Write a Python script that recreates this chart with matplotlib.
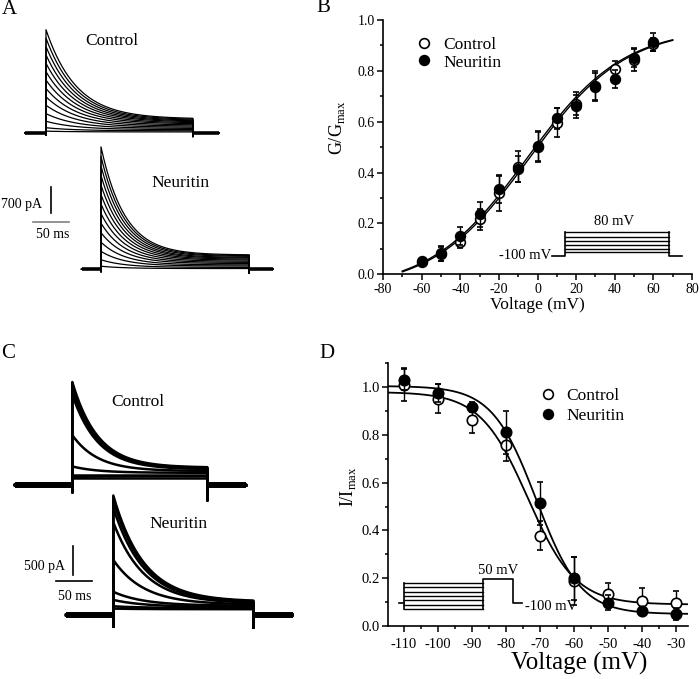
import numpy as np
import matplotlib
matplotlib.use('Agg')
import matplotlib.pyplot as plt
from matplotlib.lines import Line2D
from matplotlib.ticker import MultipleLocator

plt.rcParams['font.family'] = ['Liberation Serif', 'DejaVu Serif']
plt.rcParams['mathtext.fontset'] = 'custom'
plt.rcParams['mathtext.rm'] = 'Liberation Serif'
plt.rcParams['axes.unicode_minus'] = False

W, H = 700, 679

# ---- data ----
# A: activation current families (pA), peak and steady-state of each sweep
A_ctrl_peak = [2700, 2480, 2260, 2040, 1820, 1600, 1380, 1160, 940, 720, 500, 300, 130, 40]
A_ctrl_ss = [360, 340, 320, 300, 280, 255, 230, 200, 170, 140, 110, 80, 50, 20]
A_neur_peak = [3210, 2960, 2710, 2460, 2210, 1960, 1710, 1460, 1210, 960, 710, 470, 250, 80]
A_neur_ss = [375, 355, 335, 310, 290, 265, 240, 210, 180, 150, 115, 85, 50, 20]
A_ctrl_tau = 42
A_neur_tau = 33

# C: inactivation current families (pA)
C_ctrl_peak = [1775, 1720, 1640, 1560, 860, 320, 180, 140, 120]
C_ctrl_ss = [300, 290, 280, 270, 240, 210, 180, 150, 120]
C_neur_peak = [2060, 1980, 1850, 1600, 950, 400, 260, 150, 110]
C_neur_ss = [230, 220, 210, 200, 180, 160, 140, 120, 100]
C_ctrl_tau = 35
C_neur_tau = 42

# B: G/Gmax vs voltage
B_volt = [-60, -50, -40, -30, -20, -10, 0, 10, 20, 30, 40, 50, 60]
B_ctrl = [0.05, 0.08, 0.126, 0.216, 0.318, 0.423, 0.50, 0.596, 0.67, 0.738, 0.806, 0.843, 0.905]
B_ctrl_err = [0.01, 0.028, 0.024, 0.042, 0.068, 0.062, 0.06, 0.057, 0.045, 0.053, 0.033, 0.043, 0.025]
B_neur = [0.052, 0.082, 0.15, 0.236, 0.335, 0.414, 0.505, 0.613, 0.66, 0.74, 0.768, 0.852, 0.915]
B_neur_err = [0.01, 0.03, 0.035, 0.05, 0.055, 0.05, 0.06, 0.04, 0.044, 0.06, 0.037, 0.037, 0.035]
# Boltzmann fit parameters (A1, A2, V0, k)
B_ctrl_fit = (-0.06, 0.97, -4.4, 25.0)
B_neur_fit = (-0.06, 0.97, -5.6, 25.0)

# D: I/Imax vs prepulse voltage
D_volt = [-110, -100, -90, -80, -70, -60, -50, -40, -30]
D_ctrl = [1.011, 0.952, 0.864, 0.759, 0.378, 0.19, 0.133, 0.106, 0.095]
D_ctrl_err = [0.07, 0.06, 0.055, 0.07, 0.06, 0.1, 0.045, 0.055, 0.05]
D_neur = [1.032, 0.976, 0.917, 0.811, 0.515, 0.2, 0.098, 0.064, 0.05]
D_neur_err = [0.045, 0.038, 0.02, 0.09, 0.09, 0.09, 0.03, 0.015, 0.025]
D_ctrl_fit = (0.98, 0.09, -73.5, 7.0)
D_neur_fit = (1.005, 0.05, -71.0, 6.5)


def boltz(v, p):
    a1, a2, v0, k = p
    return a2 + (a1 - a2) / (1 + np.exp((v - v0) / k))


fig = plt.figure(figsize=(7, 6.79), dpi=100)


def px_axes(left, top, right, bottom):
    return fig.add_axes([left / W, 1 - bottom / H, (right - left) / W, (bottom - top) / H])


def trace_axes(left, top, right, bottom, ox, oy, xs, ys):
    # (ox, oy) is the figure pixel where t=0, I=0 sits
    ax = px_axes(left, top, right, bottom)
    ax.set_xlim((left - ox) * xs, (right - ox) * xs)
    ax.set_ylim((oy - bottom) * ys, (oy - top) * ys)
    ax.axis('off')
    return ax


def draw_family(ax, peaks, steady, tau, dur, pre, post, lw, base_lw, dip_on, dip_off):
    ax.plot([-pre, 0], [0, 0], color='black', lw=base_lw, solid_capstyle='butt')
    ax.plot([dur, dur + post], [0, 0], color='black', lw=base_lw, solid_capstyle='butt')
    for pk, ss in zip(peaks, steady):
        t_on = np.linspace(0, dur, 400)
        i_on = ss + (pk - ss) * np.exp(-t_on / tau)
        t = np.concatenate([[-pre, 0, 0], t_on, [dur, dur, dur + post]])
        i = np.concatenate([[0, 0, -dip_on], i_on, [-dip_off, 0, 0]])
        ax.plot(t, i, color='black', lw=lw)


def ftext(x, y, s, **kw):
    fig.text(x / W, 1 - y / H, s, **kw)


# ---- panel A ----
a_xs, a_ys = 50 / 36, 700 / 26.7
axA1 = trace_axes(0, 20, 320, 145, 46, 132.7, a_xs, a_ys)
draw_family(axA1, A_ctrl_peak, A_ctrl_ss, A_ctrl_tau, 204, 29, 36, 0.9, 2.6, 60, 100)
axA2 = trace_axes(0, 140, 320, 290, 101, 269.3, a_xs, a_ys)
draw_family(axA2, A_neur_peak, A_neur_ss, A_neur_tau, 206, 27, 33, 0.9, 2.6, 60, 100)
axA2.plot([-69.4, -69.4], [1467, 1467 + 700], color='black', lw=1.2)
axA2.plot([-94, -94 + 50], [1247, 1247], color='#808080', lw=1.2)
ftext(112, 40.7, 'Control', fontsize=12.5, ha='center', va='center')
ftext(181, 182.7, 'Neuritin', fontsize=12.5, ha='center', va='center')
ftext(42, 204, '700 pA', fontsize=10, ha='right', va='center')
ftext(53, 235, '50 ms', fontsize=10, ha='center', va='center')

# ---- panel C ----
c_xs, c_ys = 50 / 36.3, 500 / 29
axC1 = trace_axes(0, 370, 320, 510, 72.3, 485, c_xs, c_ys)
draw_family(axC1, C_ctrl_peak, C_ctrl_ss, C_ctrl_tau, 186, 79, 53, 1.8, 4.3, 120, 260)
axC2 = trace_axes(0, 485, 320, 640, 113.3, 615, c_xs, c_ys)
draw_family(axC2, C_neur_peak, C_neur_ss, C_neur_tau, 193, 65, 54, 1.8, 4.3, 200, 220)
axC2.plot([-55, -55], [690, 690 + 500], color='black', lw=1.2)
axC2.plot([-79, -79 + 50], [591, 591], color='black', lw=1.2)
ftext(138, 401.7, 'Control', fontsize=12.5, ha='center', va='center')
ftext(179, 524.3, 'Neuritin', fontsize=12.5, ha='center', va='center')
ftext(65, 566.7, '500 pA', fontsize=10, ha='right', va='center')
ftext(75, 596.7, '50 ms', fontsize=10, ha='center', va='center')


def style(ax, fs):
    for s in ['top', 'right']:
        ax.spines[s].set_visible(False)
    for s in ['left', 'bottom']:
        ax.spines[s].set_linewidth(1.2)
    ax.tick_params(which='major', direction='out', length=4, width=1.1, labelsize=fs, pad=2)
    ax.tick_params(which='minor', direction='out', length=2.2, width=1.1)


# ---- panel B ----
axB = px_axes(383, 20, 692, 274.3)
vB = np.linspace(-70, 70, 300)
axB.plot(vB, boltz(vB, B_ctrl_fit), color='black', lw=1.0)
axB.plot(vB, boltz(vB, B_neur_fit), color='black', lw=1.0)
axB.errorbar(B_volt, B_ctrl, yerr=B_ctrl_err, fmt='o', mfc='white', mec='black', mew=1.2, ms=7,
             ecolor='black', elinewidth=1, capsize=2.5, capthick=1, zorder=3)
axB.errorbar(B_volt, B_neur, yerr=B_neur_err, fmt='o', mfc='black', mec='black', mew=1.2, ms=7,
             ecolor='black', elinewidth=1, capsize=2.5, capthick=1, zorder=4)
axB.set_xlim(-80, 80)
axB.set_ylim(0, 1.0)
axB.xaxis.set_major_locator(MultipleLocator(20))
axB.xaxis.set_minor_locator(MultipleLocator(10))
axB.yaxis.set_major_locator(MultipleLocator(0.2))
axB.yaxis.set_minor_locator(MultipleLocator(0.1))
axB.yaxis.set_major_formatter(matplotlib.ticker.FormatStrFormatter('%.1f'))
style(axB, 10)
axB.set_xlabel('Voltage (mV)', fontsize=12.5)
axB.xaxis.label.set_va('center')
axB.xaxis.set_label_coords(0.5, -(305 - 274.3) / 254.3)
axB.set_ylabel('G/G$_{\\mathregular{max}}$', fontsize=13)
axB.yaxis.label.set_va('center')
axB.yaxis.set_label_coords((337 - 383) / 309, (274.3 - 128) / 254.3)
hB = [Line2D([], [], ls='none', marker='o', mfc='white', mec='black', mew=1.2, ms=7),
      Line2D([], [], ls='none', marker='o', mfc='black', mec='black', mew=1.2, ms=7)]
axB.legend(hB, ['Control', 'Neuritin'], loc='upper left', bbox_to_anchor=(0.105, 0.935),
           frameon=False, fontsize=12.5, handlelength=1.0, handletextpad=0.6,
           labelspacing=0.1, borderpad=0, borderaxespad=0)
# voltage protocol sketch
B_hold = 0.072
B_steps = [0.086, 0.100, 0.115, 0.132, 0.148, 0.165]
axB.plot([7.4, 14, 14], [B_hold, B_hold, B_steps[-1]], color='black', lw=1.2, clip_on=False)
axB.plot([67.9, 67.9, 74.8], [B_steps[-1], B_hold, B_hold], color='black', lw=1.2, clip_on=False)
for lv in B_steps:
    axB.plot([14, 67.9], [lv, lv], color='black', lw=1.0)
axB.text(39.7, 0.207, '80 mV', fontsize=10.5, ha='center', va='center')
axB.text(7.0, B_hold, '-100 mV', fontsize=10.5, ha='right', va='center')

# ---- panel D ----
axD = px_axes(388.3, 363.3, 688, 626)
vD = np.linspace(-115, -25, 300)
axD.plot(vD, boltz(vD, D_ctrl_fit), color='black', lw=1.3)
axD.plot(vD, boltz(vD, D_neur_fit), color='black', lw=1.3)
axD.errorbar(D_volt, D_ctrl, yerr=D_ctrl_err, fmt='o', mfc='white', mec='black', mew=1.2, ms=7.5,
             ecolor='black', elinewidth=1, capsize=2.5, capthick=1, zorder=3)
axD.errorbar(D_volt, D_neur, yerr=D_neur_err, fmt='o', mfc='black', mec='black', mew=1.2, ms=7.5,
             ecolor='black', elinewidth=1, capsize=2.5, capthick=1, zorder=4)
axD.set_xlim(-114.5, -26.5)
axD.set_ylim(0, 1.1)
axD.xaxis.set_major_locator(MultipleLocator(10))
axD.xaxis.set_minor_locator(MultipleLocator(5))
axD.yaxis.set_major_locator(MultipleLocator(0.2))
axD.yaxis.set_minor_locator(MultipleLocator(0.1))
axD.yaxis.set_major_formatter(matplotlib.ticker.FormatStrFormatter('%.1f'))
style(axD, 10.5)
axD.tick_params(axis='x', pad=5)
axD.set_xlabel('Voltage (mV)', fontsize=18)
axD.xaxis.label.set_va('center')
axD.xaxis.set_label_coords((579 - 388.3) / 299.7, -(663 - 626) / 262.7)
axD.set_ylabel('I/I$_{\\mathregular{max}}$', fontsize=13)
axD.yaxis.label.set_va('center')
axD.yaxis.set_label_coords((348 - 388.3) / 299.7, (626 - 487) / 262.7)
axD.legend(hB, ['Control', 'Neuritin'], loc='upper left', bbox_to_anchor=(0.505, 0.905),
           frameon=False, fontsize=12.5, handlelength=1.0, handletextpad=0.56,
           labelspacing=0.2, borderpad=0, borderaxespad=0)
D_hold = 0.095
D_test = 0.197
D_steps = [0.070, 0.089, 0.107, 0.126, 0.144, 0.163, 0.182]
axD.plot([-111.5, -110], [D_hold, D_hold], color='black', lw=1.2, clip_on=False)
axD.plot([-110, -110], [D_steps[0], D_steps[-1]], color='black', lw=1.2, clip_on=False)
for lv in D_steps:
    axD.plot([-110, -86.7], [lv, lv], color='black', lw=1.0)
axD.plot([-86.7, -86.7, -77.9, -77.9, -75.3], [D_steps[0], D_test, D_test, D_hold, D_hold],
         color='black', lw=1.2)
axD.text(-82.3, 0.231, '50 mV', fontsize=10.5, ha='center', va='center')
axD.text(-74.3, 0.081, '-100 mV', fontsize=10.5, ha='left', va='center')

# panel letters
ftext(9, 10, 'A', fontsize=15, ha='center', va='center')
ftext(323, 8, 'B', fontsize=15, ha='center', va='center')
ftext(8, 353, 'C', fontsize=15, ha='center', va='center')
ftext(327, 353, 'D', fontsize=15, ha='center', va='center')

fig.savefig('out.png', dpi=100)
